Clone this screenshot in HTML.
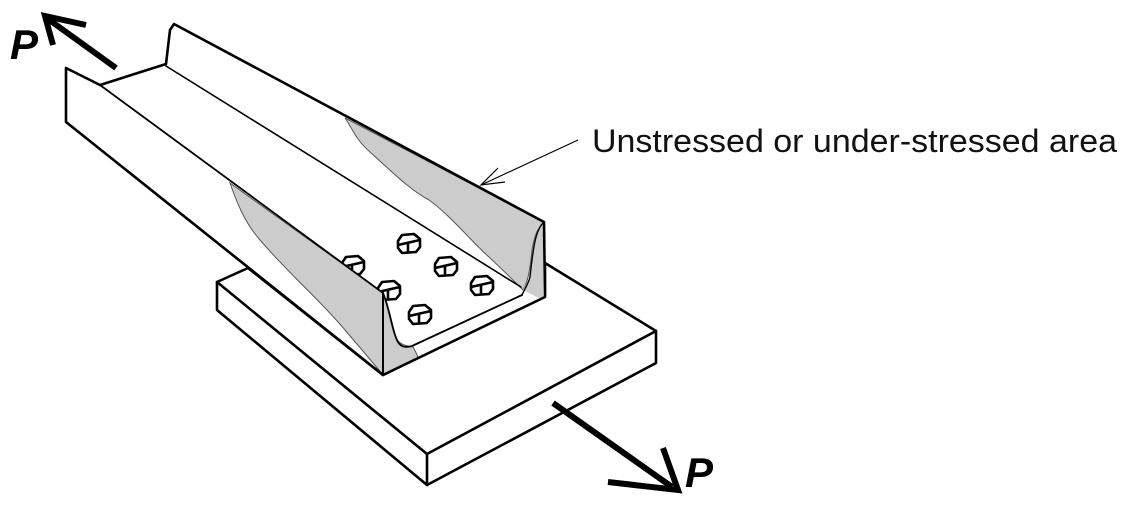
<!DOCTYPE html>
<html><head><meta charset="utf-8"><style>html,body{margin:0;padding:0;background:#fff}svg{display:block}</style></head>
<body>
<svg width="1127" height="506" viewBox="0 0 1127 506" xmlns="http://www.w3.org/2000/svg">
<defs>
<g id="b"><path d="M-11,-3 L-7,-9 L5,-10 L11,-5 L11,3 L7,8 L-7,9 L-11,4 Z"/><path d="M-11,1 L11,-4 M-1,-1 L-1,9"/></g>
</defs>
<g fill="none" stroke="#000" stroke-width="2.6" stroke-linejoin="round" stroke-linecap="round">
<polygon points="217,282 248,268 383,375 545,295 545,263 656,331 656,363 427,485 217,310" fill="#fff"/>
<polyline points="217,282 427,454 656,331"/>
<line x1="427" y1="454" x2="427" y2="485"/>
</g>
<polygon points="66,68 100,85 164,66 174,24 544,222 544,300 383,375 66,122" fill="#fff"/>
<!-- bolts (drawn before flange fill so partial ones get clipped) -->
<g fill="#fff" stroke="#000" stroke-width="2.6" stroke-linejoin="round">
<use href="#b" transform="translate(353,266)"/>
<use href="#b" transform="translate(389,291)"/>
</g>
<polygon points="230,183 383,293 383,375 66,122 66,68 100,85" fill="#fff"/>
<path d="M230,183 C236,200 244,222 260,240 C290,275 320,300 345,330 C362,350 375,365 383,375 L383,293 Z" fill="#ccc" stroke="#555" stroke-width="1"/>
<path d="M383,293 C390,310 392,330 397,340 C402,346 410,346 413,347 C416,352 418,357 418,358 L383,375 Z" fill="#ccc" stroke="#555" stroke-width="1"/>
<path d="M345,118 C352,128 356,140 370,152 C390,170 410,190 429,200 C450,215 470,240 490,258 C505,272 515,282 523,290 C528,282 530,270 532,250 C534,238 536,230 544,222 Z" fill="#ccc" stroke="#555" stroke-width="1"/>
<path d="M523,290 L543,300 L543,222 C535,230 533,250 530,277 Z" fill="#ccc" stroke="none"/>
<g fill="none" stroke="#000" stroke-linejoin="round" stroke-linecap="round">
<polyline stroke-width="2.6" points="100,85 66,68 66,122 383,375 545,297 544,222 174,24 170,30 166,64 100,85"/>
<line stroke-width="1.8" x1="100" y1="85" x2="383" y2="293"/>
<line stroke-width="2" x1="383" y1="293" x2="383" y2="375"/>
<line stroke-width="1.6" x1="166" y1="66" x2="521" y2="287"/>
<path stroke-width="1.8" d="M383,293 C390,310 392,330 397,340 C400,347 405,348 412,346 L522,295"/>
<path stroke-width="1.4" d="M544,222 C535,230 533,250 530,277 C528,285 524,290 522,295"/>
</g>
<g fill="#fff" stroke="#000" stroke-width="2.6" stroke-linejoin="round">
<use href="#b" transform="translate(409,244)"/>
<use href="#b" transform="translate(446,267)"/>
<use href="#b" transform="translate(482,286)"/>
<use href="#b" transform="translate(420,315)"/>
</g>
<g stroke="#000" stroke-width="1.2" fill="none">
<line x1="578" y1="140" x2="481" y2="185"/>
<polyline points="498,168 481,185 505,182"/>
</g>
<g stroke="#000" stroke-width="6" fill="none" stroke-linecap="butt">
<line x1="116" y1="68" x2="48" y2="19"/>
<polyline points="86,25 45,16 53,45"/>
<line x1="553" y1="403" x2="672" y2="487"/>
<polyline points="608,482 678,490 663,448"/>
</g>
<text x="10" y="59" font-family="Liberation Sans, sans-serif" font-weight="bold" font-style="italic" font-size="42">P</text>
<text x="685" y="487" font-family="Liberation Sans, sans-serif" font-weight="bold" font-style="italic" font-size="42">P</text>
<text x="592" y="152" font-family="Liberation Sans, sans-serif" font-size="32" textLength="525" lengthAdjust="spacingAndGlyphs" fill="#111">Unstressed or under-stressed area</text>
</svg>
</body></html>
